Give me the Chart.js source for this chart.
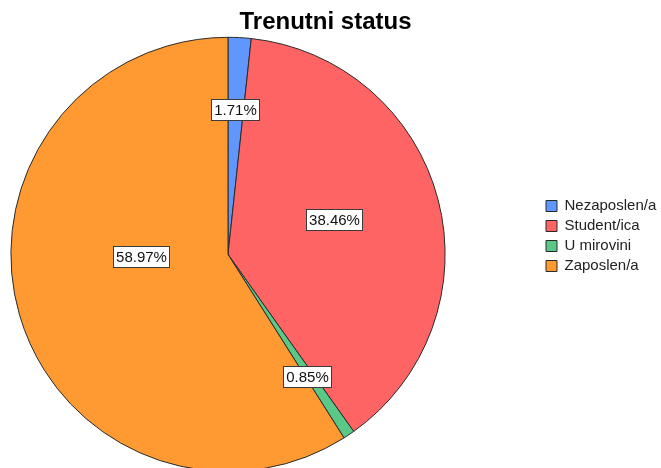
<!DOCTYPE html>
<html>
<head>
<meta charset="utf-8">
<script src="https://cdn.jsdelivr.net/npm/chart.js@4.4.0/dist/chart.umd.min.js"></script>
<style>
  html, body { margin: 0; padding: 0; background: #fff; overflow: hidden; }
  #wrap { position: relative; width: 661px; height: 472px; }
</style>
</head>
<body>
<div id="wrap"><canvas id="pie"></canvas></div>
<script>
// respondents per current status (n = 117)
const categories = ['Nezaposlen/a', 'Student/ica', 'U mirovini', 'Zaposlen/a'];
const counts = [2, 45, 1, 69];
const sliceColors = ['#5f97ff', '#ff6464', '#5ac987', '#ff9a33'];

// where each % box sits: fraction of radius, angle nudge in degrees
const labelSpots = [
  { r: 0.665, a: 0 },
  { r: 0.515, a: -3.3 },
  { r: 0.673, a: 0.7 },
  { r: 0.398, a: 14.5 }
];

const font = '"Liberation Sans", Arial, sans-serif';

const pctLabels = {
  id: 'pctLabels',
  afterDatasetsDraw(chart) {
    const ctx = chart.ctx;
    const meta = chart.getDatasetMeta(0);
    const total = counts.reduce((a, b) => a + b, 0);
    ctx.save();
    ctx.font = '15px ' + font;
    ctx.textAlign = 'center';
    ctx.textBaseline = 'middle';
    meta.data.forEach((arc, i) => {
      const p = arc.getProps(['x', 'y', 'startAngle', 'endAngle', 'outerRadius'], true);
      const spot = labelSpots[i];
      const ang = (p.startAngle + p.endAngle) / 2 + spot.a * Math.PI / 180;
      const rr = p.outerRadius * spot.r;
      const x = p.x + Math.cos(ang) * rr;
      const y = p.y + Math.sin(ang) * rr;
      const txt = (counts[i] / total * 100).toFixed(2) + '%';
      const w = Math.round(ctx.measureText(txt).width + 6);
      const h = 22;
      const bx = Math.round(x - w / 2), by = Math.round(y - h / 2);
      ctx.fillStyle = '#fff';
      ctx.fillRect(bx, by, w, h);
      ctx.strokeStyle = '#3a3a3a';
      ctx.lineWidth = 1;
      ctx.strokeRect(bx + 0.5, by + 0.5, w - 1, h - 1);
      ctx.fillStyle = '#111';
      ctx.fillText(txt, bx + w / 2, by + h / 2 + 1);
    });
    ctx.restore();
  }
};

// keep the pie on the left and park the legend near the right edge
const legendPlace = {
  id: 'legendPlace',
  beforeInit(chart) {
    const lg = chart.legend;
    const fit = lg.fit;
    lg.fit = function() {
      fit.call(this);
      this.width = 195;
    };
  },
  afterLayout(chart) {
    const lg = chart.legend;
    lg.left += 95;
    lg.right += 95;
  }
};

new Chart(document.getElementById('pie'), {
  type: 'pie',
  data: {
    labels: categories,
    datasets: [{
      data: counts,
      backgroundColor: sliceColors,
      borderColor: '#2a2a2a',
      borderWidth: 1
    }]
  },
  options: {
    responsive: true,
    maintainAspectRatio: false,
    animation: false,
    layout: { padding: { left: 10, right: 20, top: 0, bottom: 0 } },
    plugins: {
      title: {
        display: true,
        text: 'Trenutni status',
        color: '#000',
        font: { family: font, size: 24, weight: 'bold' },
        padding: { top: 8, bottom: 0 }
      },
      legend: {
        position: 'right',
        labels: {
          color: '#222',
          font: { family: font, size: 15 },
          boxWidth: 11,
          boxHeight: 11,
          padding: 5
        }
      },
      tooltip: { enabled: false }
    }
  },
  plugins: [pctLabels, legendPlace]
});
</script>
</body>
</html>
